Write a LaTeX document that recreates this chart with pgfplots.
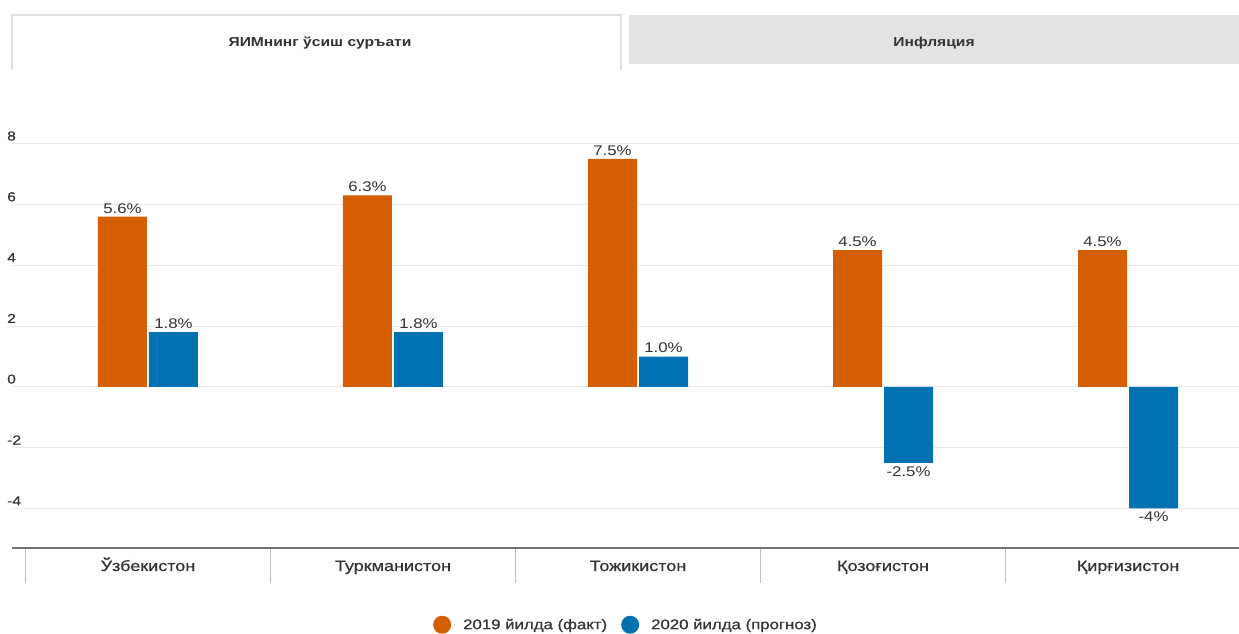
\documentclass[border=0pt]{standalone}
\usepackage{fontspec}
\setmainfont{Liberation Sans}[FakeStretch=1.2]
\newfontfamily\medfont{Liberation Sans}[FakeStretch=1.2, FakeBold=0.6]
\usepackage{pgfplots}
\pgfplotsset{compat=1.18}
\usepackage{pgfplotstable}

\definecolor{org}{HTML}{D55E00}
\definecolor{blu}{HTML}{0072B2}
\definecolor{txt}{HTML}{333333}
\definecolor{grd}{HTML}{EBEBEB}
\definecolor{tabg}{HTML}{E3E3E3}
\definecolor{tabl}{HTML}{E0E0E0}

% 2019 (fact)
\pgfplotstableread{
x y lab
0 5.6 5.6
1 6.3 6.3
2 7.5 7.5
3 4.5 4.5
4 4.5 4.5
}\fact
% 2020 (forecast)
\pgfplotstableread{
x y lab
0 1.8 1.8
1 1.8 1.8
2 1.0 1.0
3 -2.5 -2.5
4 -4 -4
}\prog

\begin{document}
\begin{tikzpicture}
\fill[white] (0,0) rectangle (1239pt,634pt);
% tabs
\fill[tabg] (629pt,570pt) rectangle (1239pt,619pt);
\draw[tabl, line width=1.5pt] (12pt,564pt) -- (12pt,619pt) -- (621pt,619pt) -- (621pt,564pt);
\node[font=\fontsize{13}{15}\selectfont\bfseries, text=txt] at (320pt,591pt) {ЯИМнинг ўсиш суръати};
\node[font=\fontsize{13}{15}\selectfont\bfseries, text=txt] at (934pt,591pt) {Инфляция};

\begin{axis}[
    at={(12pt,86pt)}, anchor=south west,
    scale only axis, width=1227pt, height=419.4pt,
    xmin=-0.555, xmax=4.453, ymin=-5.3, ymax=8.5,
    enlargelimits=false, clip=false,
    ybar=2pt, bar width=49pt,
    axis x line*=bottom, axis y line*=left,
    x axis line style={-, draw=black!55, line width=1.5pt},
    y axis line style={draw=none},
    ytick={-4,-2,0,2,4,6,8},
    ymajorgrids, grid style={grd, line width=1pt},
    ytick style={draw=none}, ytick align=inside,
    /pgf/number format/assume math mode=true,
    yticklabel style={anchor=south west, xshift=-5pt, yshift=3pt, inner sep=0pt,
        font=\medfont\fontsize{13}{15}\selectfont, text=txt},
    xtick={-0.5,0.5,1.5,2.5,3.5}, xticklabels={},
    xtick align=outside, major tick length=35pt,
    xtick style={draw=black!25, line width=1pt},
    extra x ticks={0,1,2,3,4},
    extra x tick labels={Ўзбекистон,Туркманистон,Тожикистон,Қозоғистон,Қирғизистон},
    extra x tick style={major tick length=0pt, xtick style={draw=none},
        xticklabel style={font=\medfont\fontsize{15}{17}\selectfont, text=txt,
            anchor=base, yshift=-23pt}},
    point meta=explicit symbolic,
    visualization depends on={\thisrow{y} \as \yv},
    nodes near coords={\pgfplotspointmeta\%},
    every node near coord/.append style={font=\fontsize{14}{16}\selectfont, text=txt,
        anchor=\ifdim\yv pt<0pt north\else south\fi},
    legend style={at={(0.5004,-0.183)}, anchor=center, draw=none, fill=none,
        legend columns=2, font=\medfont\fontsize{14}{16}\selectfont, text=txt,
        /tikz/every even column/.append style={column sep=12pt}},
    legend image code/.code={\fill (9pt,0pt) circle (9pt); \path (0pt,0pt) (28pt,0pt);},
]
\addplot[fill=org, draw=none] table[x=x, y=y, meta=lab] {\fact};
\addplot[fill=blu, draw=none] table[x=x, y=y, meta=lab] {\prog};
\legend{2019 йилда (факт), 2020 йилда (прогноз)}
\end{axis}
\pgfresetboundingbox
\useasboundingbox (0,0) rectangle (1239pt,634pt);
\end{tikzpicture}
\end{document}
